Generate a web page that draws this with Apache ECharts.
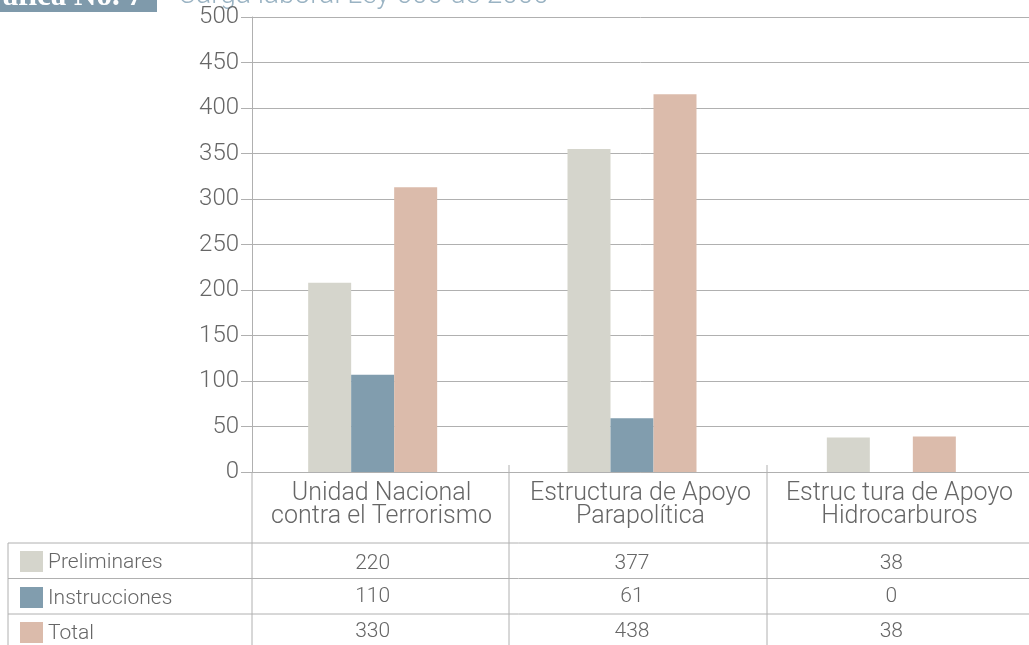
<!DOCTYPE html>
<html>
<head>
	<meta charset="utf-8">
	<title>Carga laboral Ley 600 de 2000</title>
	<script src="https://cdn.jsdelivr.net/npm/echarts@6/dist/echarts.min.js"></script>
	<style>
		body { margin: 0; background: #fff; }
		#echart { width: 1029px; height: 645px; }
	</style>
</head>
<body>
	<div id="echart"></div>
	<script>
		// datos
		let categorias = ['Unidad Nacional\ncontra el Terrorismo', 'Estructura de Apoyo\nParapolítica', 'Estruc tura de Apoyo\nHidrocarburos'];
		let series = ['Preliminares', 'Instrucciones', 'Total'];
		let colores = ['#d5d5cc', '#819dae', '#dbbbab'];
		// altura de las barras como se ven en la gráfica
		let barrasPreliminares = [208, 355, 38];
		let barrasInstrucciones = [107, 59, 0];
		let barrasTotal = [313, 415, 39];
		// valores de la tabla
		let tablaPreliminares = [220, 377, 38];
		let tablaInstrucciones = [110, 61, 0];
		let tablaTotal = [330, 438, 38];
		let ticksY = [0, 50, 100, 150, 200, 250, 300, 350, 400, 450, 500];

		let fuente = 'Roboto';
		let gris = '#666';
		let linea = '#b0b0b0';

		let mychart = echarts.init(document.getElementById('echart'));

		let barras = [barrasPreliminares, barrasInstrucciones, barrasTotal];
		let tablas = [tablaPreliminares, tablaInstrucciones, tablaTotal];
		let filasY = [551, 587, 622];      // arriba de cada fila de la tabla
		let offsetsFila = [81, 114.5, 149];

		let option = {
			animation: false,
			grid: [
				{ left: 252, right: 0, top: 17, bottom: 173 },
				{ left: 243, right: 8, top: 17, bottom: 173 }
			],
			xAxis: [{
				gridIndex: 0,
				type: 'category',
				data: categorias,
				axisLine: { lineStyle: { color: linea } },
				axisTick: { show: false },
				axisLabel: { interval: 0, color: gris, fontFamily: fuente, fontWeight: 300, fontSize: 25, lineHeight: 23, margin: 10 }
			}, {
				gridIndex: 1,
				type: 'category',
				data: categorias,
				show: false
			}],
			yAxis: [{
				gridIndex: 0,
				type: 'value',
				min: ticksY[0],
				max: ticksY[ticksY.length - 1],
				interval: 50,
				axisLine: { show: true, lineStyle: { color: linea } },
				axisTick: { show: true, length: 11, lineStyle: { color: linea } },
				axisLabel: { color: gris, fontFamily: fuente, fontWeight: 300, fontSize: 24, margin: 13 },
				splitLine: { lineStyle: { color: linea } }
			}, {
				gridIndex: 1,
				type: 'value',
				min: ticksY[0],
				max: ticksY[ticksY.length - 1],
				show: false,
				splitLine: { show: false }
			}],
			series: [],
			graphic: []
		};

		// filas de la tabla como ejes extra
		tablas.forEach(function (t, i) {
			option.xAxis.push({
				gridIndex: 1,
				type: 'category',
				position: 'bottom',
				offset: offsetsFila[i],
				data: t.map(String),
				axisLine: { show: false },
				axisTick: { show: false },
				axisLabel: { interval: 0, color: gris, fontFamily: fuente, fontWeight: 300, fontSize: 21, margin: 0 }
			});
		});

		series.forEach(function (nombre, i) {
			option.series.push({
				name: nombre,
				type: 'bar',
				xAxisIndex: 1,
				yAxisIndex: 1,
				data: barras[i],
				barWidth: 43,
				barGap: '0%',
				itemStyle: { color: colores[i] },
				silent: true
			});
			// leyenda de la tabla
			let y = filasY[i];
			option.graphic.push({
				type: 'rect', shape: { x: 20, y: y, width: 23, height: 21 },
				style: { fill: colores[i] }
			});
			option.graphic.push({
				type: 'text', x: 48, y: y + 12,
				style: { text: nombre, fill: gris, font: '300 21px ' + fuente, verticalAlign: 'middle' }
			});
		});

		// líneas de la tabla
		let lineas = [
			[252, 472, 252, 645], [509, 465, 509, 645], [767, 465, 767, 645],
			[8, 543, 8, 645],
			[8, 543, 1029, 543], [8, 578.5, 1029, 578.5], [8, 614, 1029, 614]
		];
		lineas.forEach(function (l) {
			option.graphic.push({
				type: 'line', shape: { x1: l[0], y1: l[1], x2: l[2], y2: l[3] },
				style: { stroke: linea, lineWidth: 1 }
			});
		});

		// título (cortado arriba)
		option.graphic.push({
			type: 'rect', shape: { x: 0, y: 0, width: 157, height: 12 },
			style: { fill: '#7f9aab' }
		});
		option.graphic.push({
			type: 'text', x: 143, y: -3.5,
			style: { text: 'Gráfica No. 7', fill: '#fff', font: 'bold 31px "Liberation Serif"', align: 'right', verticalAlign: 'middle' }
		});
		option.graphic.push({
			type: 'text', x: 178, y: -4.5,
			style: { text: 'Carga laboral Ley 600 de 2000', fill: '#9ab3c3', font: '300 28px ' + fuente, verticalAlign: 'middle' }
		});

		mychart.setOption(option);
	</script>
</body>
</html>
